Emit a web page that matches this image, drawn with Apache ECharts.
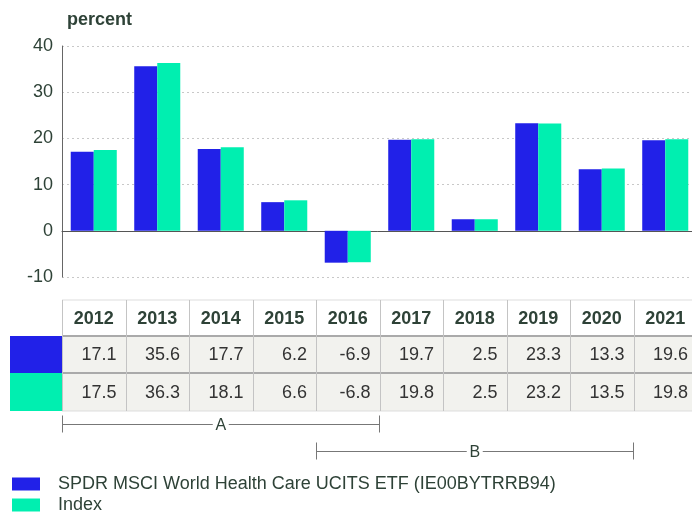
<!DOCTYPE html>
<html>
<head>
<meta charset="utf-8">
<script src="https://cdn.jsdelivr.net/npm/echarts@6/dist/echarts.min.js"></script>
<style>
  html, body { margin: 0; padding: 0; background: #fff; }
  #chart { width: 692px; height: 514px; }
</style>
</head>
<body>
<div id="chart"></div>
<script>
// chart data
const years = ['2012', '2013', '2014', '2015', '2016', '2017', '2018', '2019', '2020', '2021'];
const fundValues = [17.1, 35.6, 17.7, 6.2, -6.9, 19.7, 2.5, 23.3, 13.3, 19.6];
const indexValues = [17.5, 36.3, 18.1, 6.6, -6.8, 19.8, 2.5, 23.2, 13.5, 19.8];
const seriesNames = ['SPDR MSCI World Health Care UCITS ETF (IE00BYTRRB94)', 'Index'];
const seriesColors = ['#2121e8', '#00efb0'];
const yMin = -10;
const yMax = 40;
const yStep = 10;
// period brackets under the table (first / last category index)
const periodNames = ['A', 'B'];
const periodFrom = [0, 4];
const periodTo = [4, 8];

const textColor = '#2e4237';
const font = "'Liberation Sans', Arial, sans-serif";

var myChart = echarts.init(document.getElementById('chart'));

// one legend per series so they stack like the original
const legends = seriesNames.map((name, i) => ({
  data: [name],
  left: 12,
  top: 475 + i * 21,
  padding: 0,
  itemWidth: 28,
  itemHeight: 13,
  icon: 'rect',
  textStyle: { fontSize: 18, color: textColor, padding: [0, 0, 0, 13], fontFamily: font },
}));

let option = {
  animation: false,
  textStyle: { fontFamily: font },
  title: {
    text: 'percent',
    left: 62,
    top: 6,
    textStyle: { fontSize: 18, fontWeight: 'bold', color: textColor, fontFamily: font },
  },
  grid: { left: 62, top: 46, width: 635, height: 231, outerBoundsMode: 'none' },
  xAxis: {
    type: 'category',
    data: years,
    axisLine: { lineStyle: { color: '#555', width: 1 } },
    axisTick: { show: false },
    axisLabel: { show: false },
  },
  yAxis: {
    type: 'value',
    min: yMin,
    max: yMax,
    interval: yStep,
    axisLine: { show: true, lineStyle: { color: '#666', width: 1 } },
    axisTick: { show: false },
    axisLabel: { fontSize: 18, color: textColor, margin: 9, fontFamily: font },
    splitLine: { lineStyle: { color: '#c8c8c8', type: [2, 3] } },
  },
  legend: legends,
  series: [
    {
      name: seriesNames[0],
      type: 'bar',
      data: fundValues,
      itemStyle: { color: seriesColors[0] },
      barGap: '0%',
      barCategoryGap: '27.5%',
    },
    {
      name: seriesNames[1],
      type: 'bar',
      data: indexValues,
      itemStyle: { color: seriesColors[1] },
    },
  ],
};

myChart.setOption(option);

// table + brackets drawn as graphic elements aligned to the category axis
function buildTable() {
  const c0 = myChart.convertToPixel({ xAxisIndex: 0 }, 0);
  const c1 = myChart.convertToPixel({ xAxisIndex: 0 }, 1);
  const half = (c1 - c0) / 2;
  const centers = years.map((y, i) => myChart.convertToPixel({ xAxisIndex: 0 }, i));
  const tableLeft = centers[0] - half;
  const tableRight = centers[years.length - 1] + half;
  const rowTop = [300, 336, 373];
  const rowBottom = 411;
  const els = [];

  // row backgrounds
  els.push({ type: 'rect', shape: { x: tableLeft, y: rowTop[1], width: tableRight - tableLeft, height: rowBottom - rowTop[1] }, style: { fill: '#f2f2ee' }, z: 1 });
  // color squares
  els.push({ type: 'rect', shape: { x: 10, y: rowTop[1], width: tableLeft - 10, height: rowTop[2] - rowTop[1] }, style: { fill: seriesColors[0] }, z: 1 });
  els.push({ type: 'rect', shape: { x: 10, y: rowTop[2], width: tableLeft - 10, height: rowBottom - rowTop[2] }, style: { fill: seriesColors[1] }, z: 1 });

  // horizontal lines
  els.push({ type: 'line', shape: { x1: tableLeft, y1: rowTop[0], x2: tableRight, y2: rowTop[0] }, style: { stroke: '#ddd', lineWidth: 1 }, z: 2 });
  els.push({ type: 'line', shape: { x1: tableLeft, y1: rowTop[1], x2: tableRight, y2: rowTop[1] }, style: { stroke: '#aaa', lineWidth: 2 }, z: 2 });
  els.push({ type: 'line', shape: { x1: tableLeft, y1: rowTop[2], x2: tableRight, y2: rowTop[2] }, style: { stroke: '#aaa', lineWidth: 2 }, z: 2 });
  els.push({ type: 'line', shape: { x1: tableLeft, y1: rowBottom, x2: tableRight, y2: rowBottom }, style: { stroke: '#ddd', lineWidth: 1 }, z: 2 });

  // vertical lines
  for (let i = 0; i <= years.length; i++) {
    const x = Math.round(tableLeft + i * half * 2) + 0.5;
    els.push({ type: 'line', shape: { x1: x, y1: rowTop[0], x2: x, y2: rowBottom }, style: { stroke: '#c4c4c4', lineWidth: 1 }, z: 2 });
  }

  years.forEach((y, i) => {
    els.push({ type: 'text', x: centers[i], y: (rowTop[0] + rowTop[1]) / 2 + 1, style: { text: y, font: 'bold 18px ' + font, fill: textColor, align: 'center', verticalAlign: 'middle' }, z: 3 });
    els.push({ type: 'text', x: centers[i] + half - 9, y: (rowTop[1] + rowTop[2]) / 2 + 1, style: { text: fundValues[i].toFixed(1), font: '18px ' + font, fill: '#333', align: 'right', verticalAlign: 'middle' }, z: 3 });
    els.push({ type: 'text', x: centers[i] + half - 9, y: (rowTop[2] + rowBottom) / 2 + 1, style: { text: indexValues[i].toFixed(1), font: '18px ' + font, fill: '#333', align: 'right', verticalAlign: 'middle' }, z: 3 });
  });

  // period brackets
  const bracketY = [424.5, 451.5];
  periodNames.forEach((name, k) => {
    const x1 = centers[periodFrom[k]] - half;
    const x2 = centers[periodTo[k]] + half;
    const yy = bracketY[k];
    const mid = (x1 + x2) / 2;
    els.push({ type: 'line', shape: { x1: x1, y1: yy, x2: mid - 8, y2: yy }, style: { stroke: '#777', lineWidth: 1 } });
    els.push({ type: 'line', shape: { x1: mid + 8, y1: yy, x2: x2, y2: yy }, style: { stroke: '#777', lineWidth: 1 } });
    els.push({ type: 'line', shape: { x1: Math.round(x1) + 0.5, y1: yy - 9, x2: Math.round(x1) + 0.5, y2: yy + 8 }, style: { stroke: '#777', lineWidth: 1 } });
    els.push({ type: 'line', shape: { x1: Math.round(x2) - 0.5, y1: yy - 9, x2: Math.round(x2) - 0.5, y2: yy + 8 }, style: { stroke: '#777', lineWidth: 1 } });
    els.push({ type: 'text', x: mid, y: yy + 1, style: { text: name, font: '16px ' + font, fill: textColor, align: 'center', verticalAlign: 'middle' } });
  });

  myChart.setOption({ graphic: { elements: els } });
}

buildTable();
</script>
</body>
</html>
